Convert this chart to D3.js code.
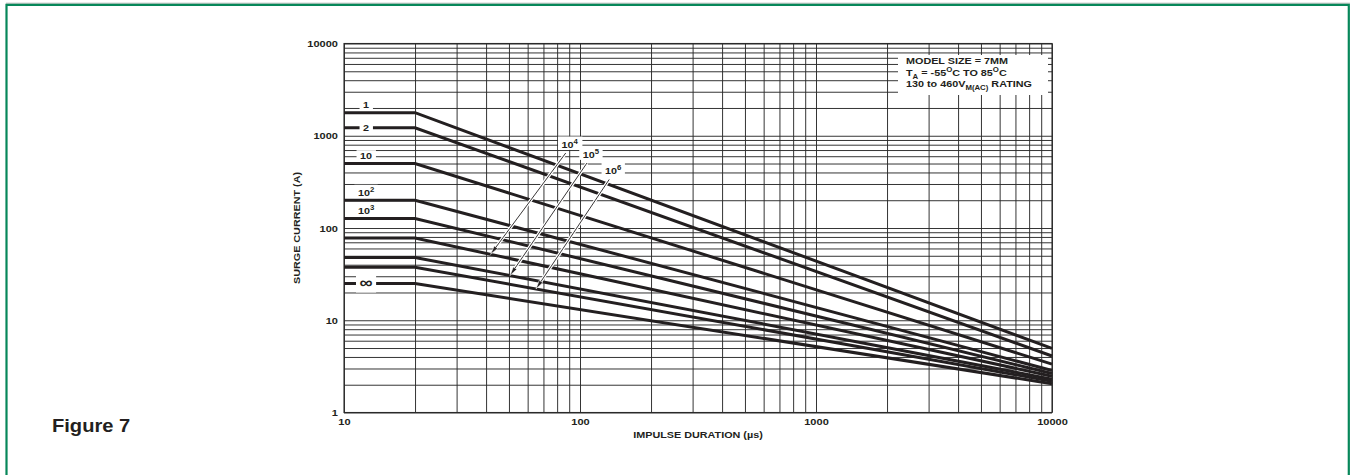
<!DOCTYPE html>
<html>
<head>
<meta charset="utf-8">
<script src="https://cdn.jsdelivr.net/npm/d3@7"></script>
<style>
  html, body { margin: 0; padding: 0; background: #fff; }
  svg { display: block; }
  text { font-family: "Liberation Sans", Arial, sans-serif; font-weight: bold; fill: #231f20; }
</style>
</head>
<body>
<svg id="chart" width="1351" height="475"></svg>
<script>
// ---- data ----
const durationStart = 10;
const durationKnee  = 20;
const durationEnd   = 10000;

// one curve per number of pulses
const pulseBase     = ['1', '2', '10', '10', '10', '10', '10', '10', '\u221E'];
const pulseExp      = ['',  '',  '',   '2',  '3',  '4',  '5',  '6',  ''];
const currentAtKnee = [1780, 1220, 500, 200, 127, 78, 48, 37.5, 25];
const currentAtEnd  = [4.95, 4.1, 3.35, 2.85, 2.65, 2.47, 2.3, 2.18, 2.05];

// how each curve is labelled
const labelMode = ['above', 'inline', 'above', 'above', 'above', 'arrow', 'arrow', 'arrow', 'inline'];

// arrow call-outs for 10^4, 10^5, 10^6 (data coordinates)
const arrowCurve        = [5, 6, 7];
const arrowFromDuration = [87, 107, 133];
const arrowFromCurrent  = [650, 506, 336];
const arrowToDuration   = [41.8, 50.5, 65.1];

const xTickValues = [10, 100, 1000, 10000];
const yTickValues = [1, 10, 100, 1000, 10000];

const legendLines = [
  [['MODEL SIZE = 7MM', 0]],
  [['T', 0], ['A', 1], [' = -55', 0], ['O', -1], ['C TO 85', 0], ['O', -1], ['C', 0]],
  [['130 to 460V', 0], ['M(AC)', 1], [' RATING', 0]]
];

// ---- layout ----
const W = 1351, H = 475;
const INK = '#231f20';
const GREEN = '#07875a';
const SX = 1.15;               // the scanned type is set wide
const plot = { left: 344, right: 1052, top: 43.5, bottom: 412.5 };

const svg = d3.select('#chart');

// text placed at (px,py), stretched horizontally
function putText(parent, px, py, size, anchor) {
  return parent.append('text')
    .attr('transform', `translate(${px},${py}) scale(${SX},1)`)
    .attr('text-anchor', anchor || 'start')
    .attr('font-size', size);
}

// page frame: thin grey rule, then green border open at the bottom
svg.append('line')
  .attr('x1', 6).attr('x2', 1350).attr('y1', 3.2).attr('y2', 3.2)
  .attr('stroke', '#b8b8b8').attr('stroke-width', 1);
svg.append('path')
  .attr('d', `M6.5,${H + 5} V4.8 H1348.8 V${H + 5}`)
  .attr('fill', 'none').attr('stroke', GREEN).attr('stroke-width', 2.2);

putText(svg, 52, 431.5, 17.5).text('Figure 7');

// ---- scales ----
const x = d3.scaleLog().domain([durationStart, durationEnd]).range([plot.left, plot.right]);
const y = d3.scaleLog().domain([1, 10000]).range([plot.bottom, plot.top]);

const gridX = [], gridY = [];
[10, 100, 1000].forEach(d => d3.range(1, 10).forEach(k => gridX.push(d * k)));
gridX.push(10000);
[1, 10, 100, 1000].forEach(d => d3.range(1, 10).forEach(k => gridY.push(d * k)));
gridY.push(10000);

const plotW = plot.right - plot.left;
const plotH = plot.bottom - plot.top;

// ---- grid ----
const gx = svg.append('g')
  .attr('transform', `translate(0,${plot.bottom})`)
  .call(d3.axisBottom(x).tickValues(gridX).tickSize(-plotH).tickFormat(''));
const gy = svg.append('g')
  .attr('transform', `translate(${plot.left},0)`)
  .call(d3.axisLeft(y).tickValues(gridY).tickSize(-plotW).tickFormat(''));
[gx, gy].forEach(g => {
  g.select('.domain').remove();
  g.selectAll('line').attr('stroke', '#2a2a2a').attr('stroke-width', 0.95);
});

// frame
svg.append('rect')
  .attr('x', plot.left).attr('y', plot.top)
  .attr('width', plotW).attr('height', plotH)
  .attr('fill', 'none').attr('stroke', '#2a2a2a').attr('stroke-width', 1.1);

// ---- tick labels ----
const ax = svg.append('g')
  .attr('transform', `translate(0,${plot.bottom})`)
  .call(d3.axisBottom(x).tickValues(xTickValues).tickSize(0).tickPadding(6).tickFormat(d3.format('d')));
const ay = svg.append('g')
  .attr('transform', `translate(${plot.left - 6},0)`)
  .call(d3.axisLeft(y).tickValues(yTickValues).tickSize(0).tickPadding(0).tickFormat(d3.format('d')));
[ax, ay].forEach(g => {
  g.select('.domain').remove();
  g.selectAll('text')
    .attr('font-family', '"Liberation Sans", Arial, sans-serif')
    .attr('font-weight', 'bold')
    .attr('font-size', 9.6)
    .attr('fill', INK)
    .attr('transform', `scale(${SX},1)`);
});

// axis titles
putText(svg, (plot.left + plot.right) / 2, 438, 9.4, 'middle').text('IMPULSE DURATION (\u00B5s)');
svg.append('text')
  .attr('transform', `translate(300,${(plot.top + plot.bottom) / 2}) rotate(-90) scale(${SX},1)`)
  .attr('text-anchor', 'middle').attr('font-size', 9.4)
  .text('SURGE CURRENT (A)');

// ---- curves ----
function currentAt(i, t) {
  if (t <= durationKnee) return currentAtKnee[i];
  const f = Math.log(t / durationKnee) / Math.log(durationEnd / durationKnee);
  return Math.exp(Math.log(currentAtKnee[i]) + f * Math.log(currentAtEnd[i] / currentAtKnee[i]));
}

const line = d3.line().x(d => x(d[0])).y(d => y(d[1]));
const curves = currentAtKnee.map((c, i) => [
  [durationStart, c], [durationKnee, c], [durationEnd, currentAtEnd[i]]
]);

svg.append('g').selectAll('path')
  .data(curves)
  .join('path')
  .attr('d', line)
  .attr('fill', 'none')
  .attr('stroke', INK)
  .attr('stroke-width', 3)
  .attr('stroke-linejoin', 'miter');

// ---- labels with white boxes ----
const labelLayer = svg.append('g');

function richLabel(px, py, base, exp, size) {
  const g = labelLayer.append('g');
  const t = putText(g, px, py, size, 'middle');
  t.append('tspan').text(base);
  if (exp) t.append('tspan').attr('dy', -size * 0.42).attr('font-size', size * 0.72).text(exp);
  const b = t.node().getBBox();
  g.insert('rect', 'text')
    .attr('x', px + b.x * SX - 3.5).attr('y', py + b.y - 0.5)
    .attr('width', b.width * SX + 7).attr('height', b.height + 1)
    .attr('fill', '#fff');
  return g;
}

const labelDur = 12.4;
currentAtKnee.forEach((c, i) => {
  const mode = labelMode[i];
  if (mode === 'arrow') return;
  const cy = y(c);
  if (mode === 'inline') {
    const sz = pulseBase[i] === '\u221E' ? 16 : 9.4;
    richLabel(x(labelDur), cy + sz * 0.3, pulseBase[i], pulseExp[i], sz);
  } else {
    richLabel(x(labelDur), cy - 4.5, pulseBase[i], pulseExp[i], 9.4);
  }
});

// ---- arrow call-outs ----
const arrowLayer = svg.append('g');
arrowCurve.forEach((ci, k) => {
  const fx = x(arrowFromDuration[k]), fy = y(arrowFromCurrent[k]);
  const tx = x(arrowToDuration[k]),   ty = y(currentAt(ci, arrowToDuration[k]));
  const dx = tx - fx, dy = ty - fy, len = Math.hypot(dx, dy);
  const ux = dx / len, uy = dy / len, nx = -uy, ny = ux;
  const L = 9, w = 2.1;
  const bx = tx - ux * L, by = ty - uy * L;

  arrowLayer.append('line')
    .attr('x1', fx).attr('y1', fy).attr('x2', bx).attr('y2', by)
    .attr('stroke', '#fff').attr('stroke-width', 3.2);
  arrowLayer.append('line')
    .attr('x1', fx).attr('y1', fy).attr('x2', bx + ux * 2).attr('y2', by + uy * 2)
    .attr('stroke', INK).attr('stroke-width', 0.9);
  arrowLayer.append('path')
    .attr('d', `M${tx},${ty} L${bx + nx * w},${by + ny * w} L${bx - nx * w},${by - ny * w} Z`)
    .attr('fill', INK).attr('stroke', '#fff').attr('stroke-width', 0.6);

  richLabel(fx + 4, fy - 5.5, pulseBase[ci], pulseExp[ci], 9.4);
});

// ---- legend box ----
const lg = svg.append('g');
lg.append('rect')
  .attr('x', plot.right - 154).attr('y', plot.top + 11.5)
  .attr('width', 150).attr('height', 40)
  .attr('fill', '#fff');
legendLines.forEach((parts, li) => {
  const t = putText(lg, plot.right - 146, plot.top + 20.5 + li * 11.6, 9.4);
  let shift = 0;
  parts.forEach(([s, pos]) => {
    const target = pos === 1 ? 3 : pos === -1 ? -3.2 : 0;
    t.append('tspan')
      .attr('dy', target - shift)
      .attr('font-size', pos === 0 ? 9.4 : 6.8)
      .text(s);
    shift = target;
  });
});
</script>
</body>
</html>
